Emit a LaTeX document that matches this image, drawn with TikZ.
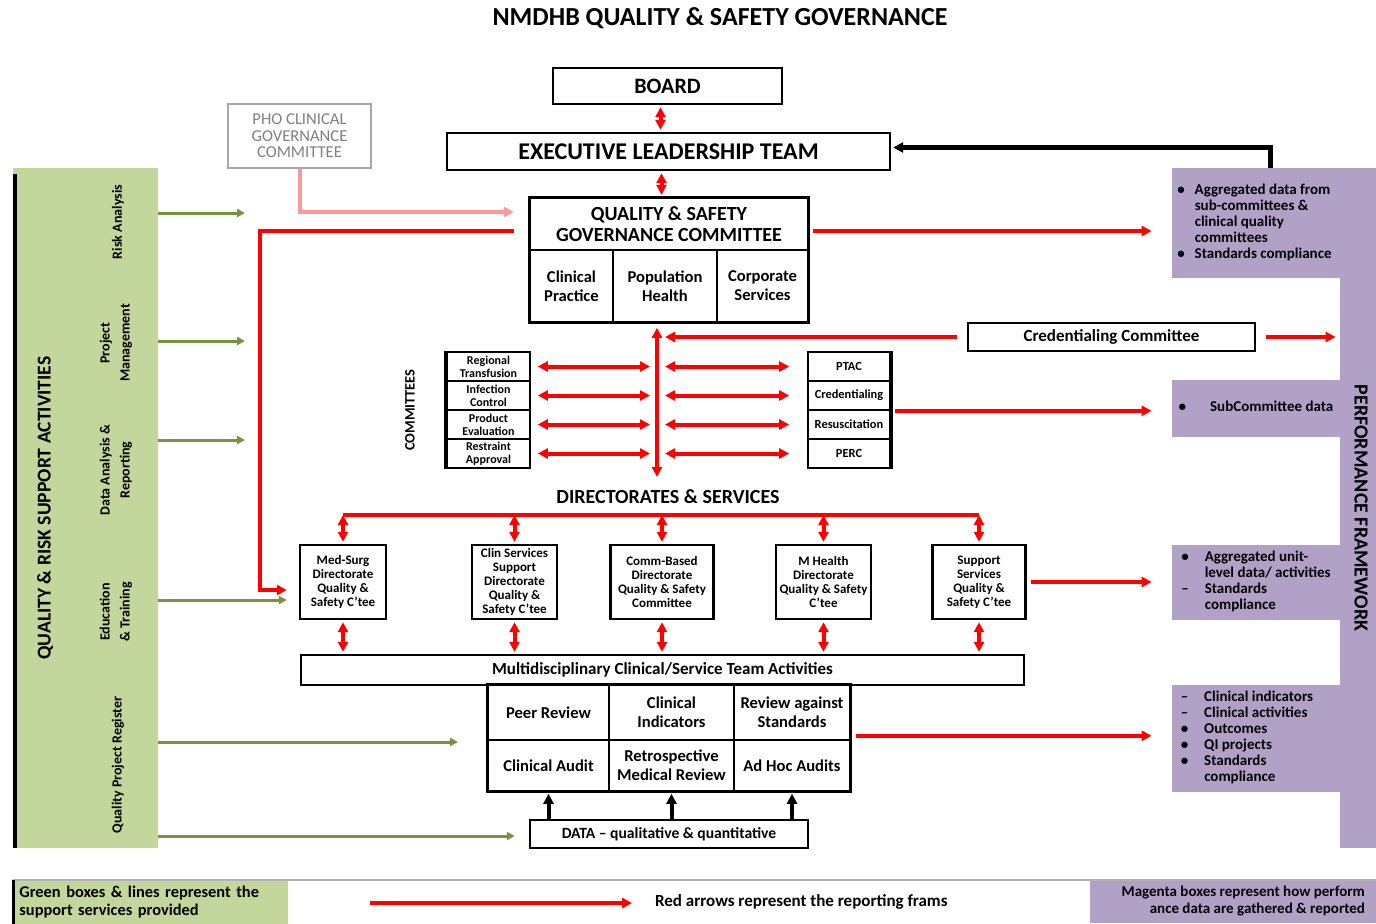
\documentclass[tikz,border=0pt]{standalone}
\usepackage{fontspec}
\setmainfont{Carlito}
\usepackage{array}
\usetikzlibrary{arrows.meta}

\definecolor{supgreen}{HTML}{C3D69B}
\definecolor{arrgreen}{HTML}{77933C}
\definecolor{perfpurple}{HTML}{B2A1C7}
\definecolor{phopink}{HTML}{FF9999}

\newcommand{\fsz}[2]{\fontsize{#1}{#2}\selectfont}

\begin{document}
\begin{tikzpicture}[x=0.5pt,y=-0.5pt,>={Triangle[length=5pt,width=5pt]},
  box/.style={draw,line width=1.2pt,align=center,inner sep=1pt,font=\bfseries},
  cell/.style={draw,line width=0.8pt,align=center,inner sep=1pt,font=\bfseries},
  redarr/.style={red,line width=2pt},
  greenarr/.style={->,arrgreen,line width=1.5pt,>={Triangle[length=4pt,width=4pt]}},
  blackarr/.style={->,black,line width=2pt},
  purplebox/.style={fill=perfpurple,inner sep=0pt,align=left,font=\bfseries\fsz{7.5}{8}},
  suplabel/.style={rotate=90,align=center,font=\bfseries\fsz{7}{10}}]
  \useasboundingbox (0,0) rectangle (1376,923);
  \fill[white] (0,0) rectangle (1376,923);

  \node[font=\bfseries\fsz{13}{15}] (title) at (720,18) {NMDHB QUALITY \& SAFETY GOVERNANCE};

  % support side
  \node[fill=supgreen,minimum width=72.5pt,minimum height=340pt,inner sep=0pt] (suppanel) at (85.5,508) {};
  \draw[line width=2pt] ([xshift=1pt,yshift=-3pt]suppanel.north west) -- ([xshift=1pt]suppanel.south west);
  \node[rotate=90,font=\bfseries\fsz{9.8}{11}] (qrsa) at (45,508) {QUALITY \& RISK SUPPORT ACTIVITIES};
  \node[suplabel] (riskan) at (118,222) {Risk Analysis};
  \node[suplabel] (projman) at (116,343) {Project\\Management};
  \node[suplabel] (datarep) at (116,470) {Data Analysis \&\\Reporting};
  \node[suplabel] (edutrain) at (116,612) {Education\\\& Training};
  \node[suplabel] (qpreg) at (118,765) {Quality Project Register};

  % performance side
  \node[purplebox,minimum width=18pt,minimum height=340pt] (band) at (1358,508) {};
  \node[rotate=-90,font=\bfseries\fsz{10}{11}] (perflbl) at (1361,508) {PERFORMANCE FRAMEWORK};
  \node[purplebox,minimum width=84pt,minimum height=55pt] (pp1) at (1256,223)
    {\begin{tabular}{@{}l@{\hspace{5pt}}>{\raggedright\arraybackslash}p{70pt}@{}}
      \textbullet & Aggregated data from sub-committees \& clinical quality committees\\
      \textbullet & Standards compliance\end{tabular}};
  \node[purplebox,minimum width=84pt,minimum height=28.5pt] (pp2) at (1256,408.5)
    {\begin{tabular}{@{}l@{\hspace{12pt}}l@{}}\textbullet & SubCommittee data\end{tabular}};
  \node[purplebox,minimum width=84pt,minimum height=37.5pt] (pp3) at (1256,582.5)
    {\begin{tabular}{@{}l@{\hspace{8pt}}l@{}}
      \textbullet & Aggregated unit-\\
                  & level data/ activities\\
      -- & Standards\\
         & compliance\end{tabular}};
  \node[purplebox,minimum width=84pt,minimum height=53.5pt] (pp4) at (1256,738.5)
    {\begin{tabular}{@{}l@{\hspace{8pt}}>{\raggedright\arraybackslash}p{63.5pt}@{}}
      -- & Clinical indicators\\
      -- & Clinical activities\\
      \textbullet & Outcomes\\
      \textbullet & QI projects\\
      \textbullet & Standards compliance\end{tabular}};

  % governance
  \node[box,font=\bfseries\fsz{11}{12},minimum width=114.5pt,minimum height=18pt] (board) at (667.5,86) {BOARD};
  \node[box,font=\bfseries\fsz{12}{13},minimum width=221.5pt,minimum height=18.5pt] (elt) at (668.5,151.5) {EXECUTIVE LEADERSHIP TEAM};
  \node[draw=gray!70,line width=1.2pt,text=gray,align=center,font=\fsz{8.3}{8.3},minimum width=71.5pt,minimum height=32pt,inner sep=1pt] (pho) at (299.5,136) {PHO CLINICAL\\GOVERNANCE\\COMMITTEE};
  \node[box,font=\bfseries\fsz{10}{10.5},minimum width=139pt,minimum height=26pt] (qsgc) at (669,224) {QUALITY \& SAFETY\\GOVERNANCE COMMITTEE};
  \node[cell,font=\bfseries\fsz{8.3}{9.5},minimum width=41.5pt,minimum height=36pt] (cp) at (571.5,286) {Clinical\\Practice};
  \node[cell,font=\bfseries\fsz{8.3}{9.5},minimum width=52pt,minimum height=36pt] (ph) at (665,286) {Population\\Health};
  \node[cell,font=\bfseries\fsz{8.3}{9.5},minimum width=45.5pt,minimum height=36pt] (cs) at (762.5,286) {Corporate\\Services};
  \draw[line width=1.2pt] (qsgc.north west) rectangle (cs.south east);
  \node[box,font=\bfseries\fsz{8.5}{9.5},minimum width=143.5pt,minimum height=14pt] (cred) at (1111.5,337) {Credentialing Committee};

  % committees
  \node[rotate=90,font=\bfseries\fsz{7.2}{8}] (comlbl) at (410,410) {COMMITTEES};
  \foreach \nm/\y/\txt in {lc1/366.5/Regional\\Transfusion, lc2/395.5/Infection\\Control,
      lc3/424.5/Product\\Evaluation, lc4/453.5/Restraint\\Approval}
    \node[cell,font=\bfseries\fsz{6}{6.6},minimum width=41.5pt,minimum height=14.5pt] (\nm) at (488.5,\y) {\txt};
  \foreach \nm/\y/\txt in {rc1/366.5/PTAC, rc2/395.5/Credentialing, rc3/424.5/Resuscitation, rc4/453.5/PERC}
    \node[cell,font=\bfseries\fsz{6.2}{7},minimum width=41pt,minimum height=14.5pt] (\nm) at (849,\y) {\txt};
  \draw[line width=2.2pt] (lc1.north west) -- (lc4.south west);
  \draw[line width=2.2pt] (rc1.north east) -- (rc4.south east);
  \coordinate (vbar) at (657,400);

  % directorates
  \node[font=\bfseries\fsz{10}{11}] (dirlbl) at (668,497) {DIRECTORATES \& SERVICES};
  \node[box,font=\bfseries\fsz{6.5}{7},minimum width=43pt,minimum height=37pt] (d1) at (343,582) {Med-Surg\\Directorate\\Quality \&\\Safety C'tee};
  \node[box,font=\bfseries\fsz{6.5}{7},minimum width=42.5pt,minimum height=37pt] (d2) at (514.5,582) {Clin Services\\Support\\Directorate\\Quality \&\\Safety C'tee};
  \node[box,font=\bfseries\fsz{6.5}{7},minimum width=51.5pt,minimum height=37pt] (d3) at (662,582) {Comm-Based\\Directorate\\Quality \& Safety\\Committee};
  \node[box,font=\bfseries\fsz{6.5}{7},minimum width=47.5pt,minimum height=37pt] (d4) at (823.5,582) {M Health\\Directorate\\Quality \& Safety\\C'tee};
  \node[box,font=\bfseries\fsz{6.5}{7},minimum width=46.5pt,minimum height=37pt] (d5) at (979,582) {Support\\Services\\Quality \&\\Safety C'tee};
  \node[box,font=\bfseries\fsz{8.5}{9},minimum width=361.5pt,minimum height=15pt] (multi) at (662.5,670) {Multidisciplinary Clinical/Service Team Activities};
  \coordinate (hub) at (660,515);

  % activities grid
  \node[cell,font=\bfseries\fsz{8.3}{9.5},minimum width=60.5pt,minimum height=27.5pt] (g1) at (548.5,712.5) {Peer Review};
  \node[cell,font=\bfseries\fsz{8.3}{9.5},minimum width=62.5pt,minimum height=27.5pt] (g2) at (671.5,712.5) {Clinical\\Indicators};
  \node[cell,font=\bfseries\fsz{8.3}{9.5},minimum width=58pt,minimum height=27.5pt] (g3) at (792,712.5) {Review against\\Standards};
  \node[cell,font=\bfseries\fsz{8.3}{9.5},minimum width=60.5pt,minimum height=25.5pt] (g4) at (548.5,765.5) {Clinical Audit};
  \node[cell,font=\bfseries\fsz{8.3}{9.5},minimum width=62.5pt,minimum height=25.5pt] (g5) at (671.5,765.5) {Retrospective\\Medical Review};
  \node[cell,font=\bfseries\fsz{8.3}{9.5},minimum width=58pt,minimum height=25.5pt] (g6) at (792,765.5) {Ad Hoc Audits};
  \draw[line width=1.6pt] (g1.north west) rectangle (g6.south east);
  \node[box,font=\bfseries\fsz{7.8}{8.5},minimum width=139pt,minimum height=14pt] (data) at (669,834) {DATA -- qualitative \& quantitative};

  % reporting lines
  \draw[redarr,<->,shorten <=1pt,shorten >=1pt] ([xshift=-3.5pt]board.south) -- ([xshift=-3.5pt]board.south |- elt.north);
  \draw[redarr,<->,shorten <=1pt,shorten >=1pt] ([xshift=-3.5pt]elt.south) -- ([xshift=-3.5pt]elt.south |- qsgc.north);
  \draw[phopink,line width=2pt,->,shorten >=7.5pt] (pho.south) |- ([yshift=6pt]qsgc.west);
  \coordinate (rbus) at (260,400);
  \draw[redarr,->,shorten <=7.5pt,shorten >=6pt] ([yshift=-3.5pt]qsgc.west) -| (rbus) |- ([yshift=-4pt]d1.west);
  \draw[redarr,->,shorten <=2pt,shorten >=10pt] ([yshift=-3.5pt]qsgc.east) -- ([yshift=-3.5pt]qsgc.east -| pp1.west);
  \draw[line width=2.5pt,->,shorten >=1pt] ([xshift=7pt]pp1.north) |- ([yshift=2pt]elt.east);
  \draw[redarr,->,shorten <=5pt,shorten >=4pt] (cred.west) -- (cred.west -| vbar);
  \draw[redarr,->,shorten <=5pt,shorten >=2pt] (cred.east) -- (cred.east -| band.west);
  \draw[redarr,<->,shorten <=2.5pt,shorten >=3pt] ([xshift=-4pt]ph.south) -- ([xshift=-4pt]ph.south |- dirlbl.north);
  \foreach \r in {1,...,4} {
    \draw[redarr,<->,shorten <=3.5pt,shorten >=3.5pt] (lc\r.east) -- (lc\r.east -| vbar);
    \draw[redarr,<->,shorten <=4pt,shorten >=9pt] (lc\r.east -| vbar) -- (rc\r.west);
  }
  \draw[redarr,->,shorten <=2pt,shorten >=10pt] (rc2.south east) -- (rc2.south east -| pp2.west);
  \draw[redarr] (d1.north |- hub) -- (d5.north |- hub);
  \foreach \d in {d1,d2,d3,d4,d5} {
    \draw[redarr,<->,shorten >=1pt] (\d.north |- hub) -- (\d.north);
    \draw[redarr,<->,shorten <=1pt,shorten >=1pt] (\d.south) -- (\d.south |- multi.north);
  }
  \draw[redarr,->,shorten <=2pt,shorten >=10pt] (d5.east) -- (d5.east -| pp3.west);
  \draw[redarr,->,shorten <=2.5pt,shorten >=10pt] ([yshift=2.5pt]g3.south east) -- ([yshift=2.5pt]g3.south east -| pp4.west);
  \foreach \g in {g4,g5,g6}
    \draw[blackarr,shorten >=1pt] (\g.south |- data.north) -- (\g.south);

  % support lines
  \coordinate (gend1) at (245,213);
  \coordinate (gend2) at (245,341);
  \coordinate (gend3) at (245,440);
  \coordinate (gend4) at ([yshift=-9pt]d1.west);
  \coordinate (gend5) at (458,742);
  \coordinate (gend6) at ([yshift=-1pt]data.west);
  \draw[greenarr] (suppanel.east |- gend1) -- (gend1);
  \draw[greenarr] (suppanel.east |- gend2) -- (gend2);
  \draw[greenarr] (suppanel.east |- gend3) -- (gend3);
  \draw[greenarr,shorten >=6pt] (suppanel.east |- gend4) -- (gend4);
  \draw[greenarr] (suppanel.east |- gend5) -- (gend5);
  \draw[greenarr,shorten >=7pt] (suppanel.east |- gend6) -- (gend6);

  % legend
  \node[fill=supgreen,anchor=north west,minimum width=137.5pt,minimum height=21.5pt,text width=131.5pt,inner sep=3pt,align=left,font=\bfseries\fsz{8.2}{9}] (leggreen) at (13,880) {Green boxes \& lines represent the\\support services provided};
  \node[fill=perfpurple,anchor=north west,minimum width=143pt,minimum height=21.5pt,inner sep=0pt] (legpurple) at (1090,880) {};
  \node[anchor=east,align=right,font=\bfseries\fsz{7.5}{8.5}] (legpurpletxt) at (1372,901) {Magenta boxes represent how perform\\ance data are gathered \& reported};
  \draw[gray!60,line width=1.2pt] (leggreen.north west) -- (legpurple.north east);
  \draw[line width=1.5pt] (leggreen.north west) -- (leggreen.south west);
  \node[anchor=west,font=\bfseries\fsz{8.5}{9}] (legredtxt) at (648,902) {Red arrows represent the reporting frams};
  \coordinate (legredstart) at (370,903);
  \draw[redarr,->,shorten >=8pt] (legredstart) -- (legredstart -| legredtxt.west);
\end{tikzpicture}
\end{document}
